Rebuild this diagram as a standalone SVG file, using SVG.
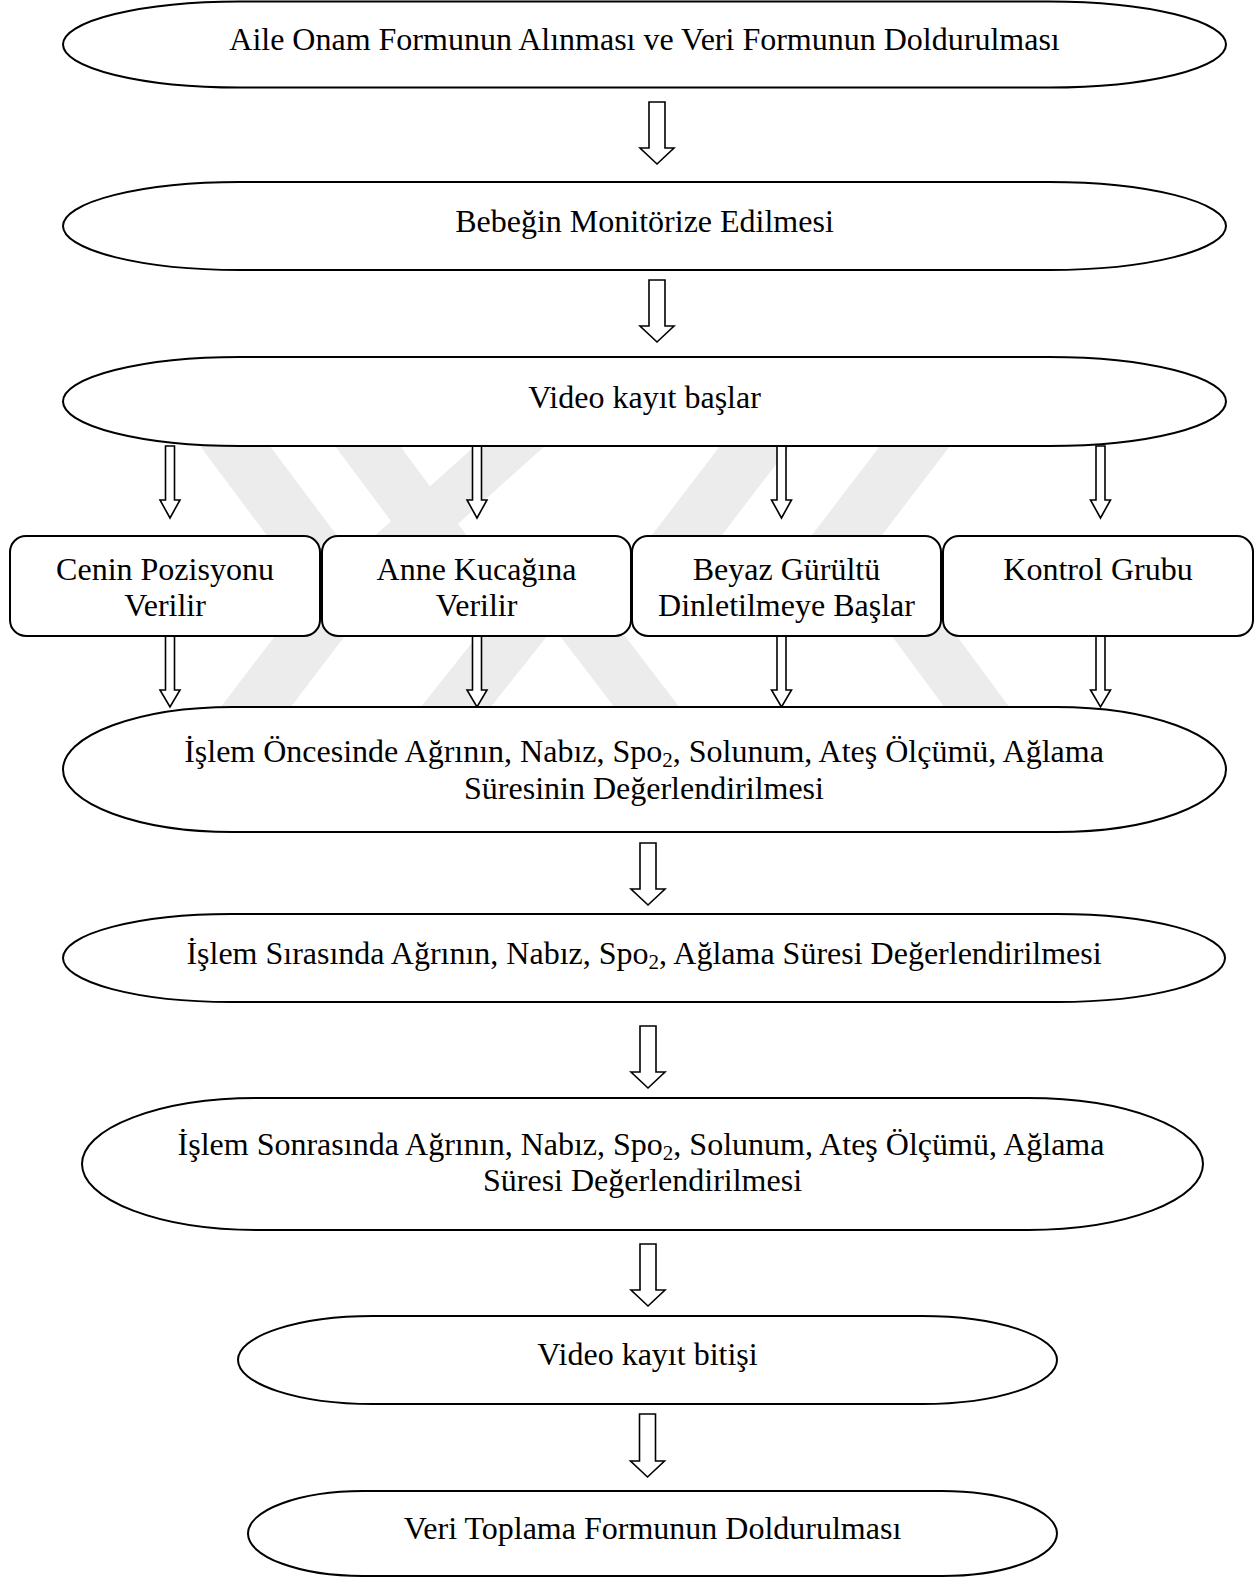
<svg xmlns="http://www.w3.org/2000/svg" width="1258" height="1578" viewBox="0 0 1258 1578">
<defs>
<style>
.term{fill:#fff;stroke:#000;stroke-width:2}
.box{fill:#fff;stroke:#000;stroke-width:2}
.arr{fill:#fff;stroke:#000;stroke-width:1.6;stroke-linejoin:miter}
.t{font-family:"Liberation Serif","Times New Roman",serif;font-size:32px;fill:#000;text-anchor:middle}
.sub{font-size:21px}
.wm{fill:#ececec}
</style>
<clipPath id="gap"><rect x="0" y="446" width="1258" height="262"/></clipPath>
</defs>
<rect width="1258" height="1578" fill="#fff"/>
<g id="watermark" clip-path="url(#gap)">
<polygon class="wm" points="200,446 270,446 400,620 330,620"/>
<polygon class="wm" points="335,446 400,446 470,540 405,540"/>
<polygon class="wm" points="475,446 545,446 440,540 370,540"/>
<polygon class="wm" points="720,446 790,446 680,590 610,590"/>
<polygon class="wm" points="880,446 950,446 840,590 770,590"/>
<polygon class="wm" points="220,708 290,708 380,590 310,590"/>
<polygon class="wm" points="420,708 490,708 560,620 490,620"/>
<polygon class="wm" points="560,636 625,636 680,708 615,708"/>
<polygon class="wm" points="880,620 945,620 1010,708 945,708"/>
</g>
<g id="connectors">
<polygon class="arr" points="649,102 665,102 665,148 674,148 657,164 640,148 649,148"/>
<polygon class="arr" points="649,280 665,280 665,326 674,326 657,342 640,326 649,326"/>
<polygon class="arr" points="165.5,446 174.5,446 174.5,500 180,500 170,518 160,500 165.5,500"/>
<polygon class="arr" points="472.5,446 481.5,446 481.5,500 487,500 477,518 467,500 472.5,500"/>
<polygon class="arr" points="777,446 786,446 786,500 791.5,500 781.5,518 771.5,500 777,500"/>
<polygon class="arr" points="1096,446 1105,446 1105,500 1110.5,500 1100.5,518 1090.5,500 1096,500"/>
<polygon class="arr" points="165.5,636 174.5,636 174.5,690 180,690 170,707 160,690 165.5,690"/>
<polygon class="arr" points="472.5,636 481.5,636 481.5,690 487,690 477,707 467,690 472.5,690"/>
<polygon class="arr" points="777,636 786,636 786,690 791.5,690 781.5,707 771.5,690 777,690"/>
<polygon class="arr" points="1096,636 1105,636 1105,690 1110.5,690 1100.5,707 1090.5,690 1096,690"/>
<polygon class="arr" points="640,843 656,843 656,889 665,889 648,905 631,889 640,889"/>
<polygon class="arr" points="640,1026 656,1026 656,1072 665,1072 648,1088 631,1072 640,1072"/>
<polygon class="arr" points="640,1244 656,1244 656,1290 665,1290 648,1306 631,1290 640,1290"/>
<polygon class="arr" points="639.5,1414 655.5,1414 655.5,1461 664.5,1461 647.5,1477 630.5,1461 639.5,1461"/>
</g>
<g id="n1">
<rect class="term" x="63" y="1.5" width="1163" height="86" rx="177" ry="43"/>
<text class="t" x="644.5" y="50">Aile Onam Formunun Alınması ve Veri Formunun Doldurulması</text>
</g>
<g id="n2">
<rect class="term" x="63" y="182" width="1163" height="88" rx="177" ry="44"/>
<text class="t" x="644.5" y="232">Bebeğin Monitörize Edilmesi</text>
</g>
<g id="n3">
<rect class="term" x="63" y="357" width="1163" height="89" rx="177" ry="44.5"/>
<text class="t" x="644.5" y="408">Video kayıt başlar</text>
</g>
<g id="b1">
<rect class="box" x="10" y="536" width="310" height="100" rx="16" ry="16"/>
<text class="t" x="165" y="580">Cenin Pozisyonu</text>
<text class="t" x="165" y="616">Verilir</text>
</g>
<g id="b2">
<rect class="box" x="322" y="536" width="309" height="100" rx="16" ry="16"/>
<text class="t" x="476.5" y="580">Anne Kucağına</text>
<text class="t" x="476.5" y="616">Verilir</text>
</g>
<g id="b3">
<rect class="box" x="632" y="536" width="309" height="100" rx="16" ry="16"/>
<text class="t" x="786.5" y="580">Beyaz Gürültü</text>
<text class="t" x="786.5" y="616">Dinletilmeye Başlar</text>
</g>
<g id="b4">
<rect class="box" x="943" y="536" width="310" height="100" rx="16" ry="16"/>
<text class="t" x="1098" y="580">Kontrol Grubu</text>
</g>
<g id="n4">
<rect class="term" x="63" y="707" width="1163" height="125" rx="170" ry="62.5"/>
<text class="t" x="644" y="762">İşlem Öncesinde Ağrının, Nabız, Spo<tspan class="sub" dy="5">2</tspan><tspan dy="-5">, Solunum, Ateş Ölçümü, Ağlama</tspan></text>
<text class="t" x="644" y="799">Süresinin Değerlendirilmesi</text>
</g>
<g id="n5">
<rect class="term" x="63" y="914" width="1162" height="88" rx="168" ry="44"/>
<text class="t" x="644" y="964">İşlem Sırasında Ağrının, Nabız, Spo<tspan class="sub" dy="5">2</tspan><tspan dy="-5">, Ağlama Süresi Değerlendirilmesi</tspan></text>
</g>
<g id="n6">
<rect class="term" x="82" y="1098" width="1121" height="132" rx="175" ry="66"/>
<text class="t" x="641" y="1155">İşlem Sonrasında Ağrının, Nabız, Spo<tspan class="sub" dy="5">2</tspan><tspan dy="-5">, Solunum, Ateş Ölçümü, Ağlama</tspan></text>
<text class="t" x="642.5" y="1191">Süresi Değerlendirilmesi</text>
</g>
<g id="n7">
<rect class="term" x="238" y="1316" width="819" height="88" rx="135" ry="44"/>
<text class="t" x="647.5" y="1365">Video kayıt bitişi</text>
</g>
<g id="n8">
<rect class="term" x="248" y="1491" width="809" height="85" rx="115" ry="42.5"/>
<text class="t" x="652.5" y="1539">Veri Toplama Formunun Doldurulması</text>
</g>
</svg>
